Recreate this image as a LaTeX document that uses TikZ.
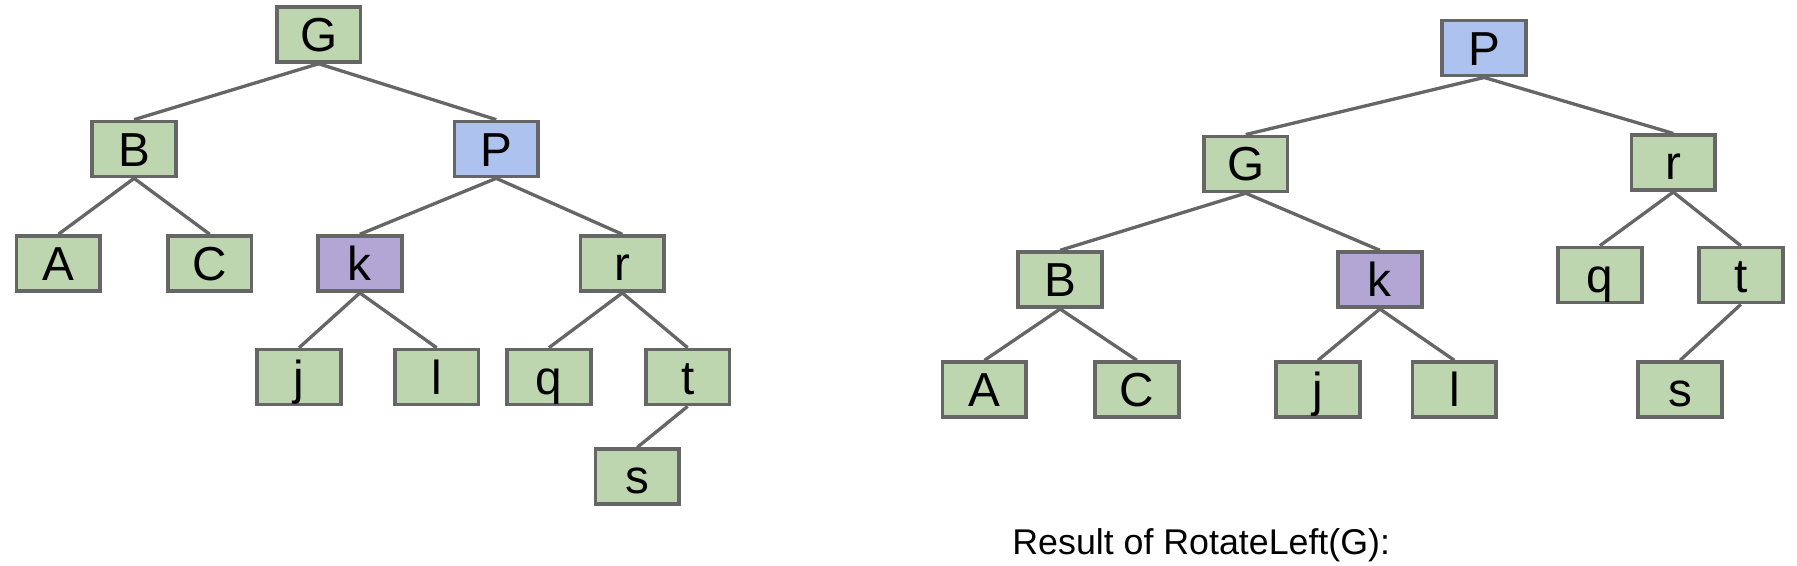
\documentclass[tikz,border=0pt]{standalone}
\usepackage{fontspec}
\setmainfont{Liberation Sans}
\definecolor{boxgreen}{HTML}{BDD6AF}
\definecolor{boxblue}{HTML}{ADC2EE}
\definecolor{boxpurple}{HTML}{B3A6D4}
\definecolor{boxedge}{HTML}{666666}
\begin{document}
\begin{tikzpicture}[x=0.5pt, y=-0.5pt,
  tnode/.style={draw=boxedge, line width=1.6pt, fill=boxgreen,
    minimum width=36.5pt, minimum height=24pt, inner sep=0pt,
    text height=14.9pt, text depth=0pt,
    font=\fontsize{20.8}{24}\selectfont},
  tedge/.style={draw=boxedge, line width=1.45pt}]
\useasboundingbox (0,0) rectangle (1568,493);

% tree before the rotation
\node[tnode] (G1) at (278,30) {G};
\node[tnode] (B1) at (117,130) {B};
\node[tnode, fill=boxblue] (P1) at (433,130) {P};
\node[tnode] (A1) at (51,230) {A};
\node[tnode] (C1) at (183,230) {C};
\node[tnode, fill=boxpurple] (k1) at (314,230) {k};
\node[tnode] (r1) at (543,230) {r};
\node[tnode] (j1) at (261,329) {j};
\node[tnode] (l1) at (381,329) {l};
\node[tnode] (q1) at (479,329) {q};
\node[tnode] (t1) at (600,329) {t};
\node[tnode] (s1) at (556,416) {s};

% tree after the rotation
\node[tnode, fill=boxblue] (P2) at (1295,42) {P};
\node[tnode] (G2) at (1087,143) {G};
\node[tnode] (r2) at (1460,142) {r};
\node[tnode] (B2) at (925,244) {B};
\node[tnode, fill=boxpurple] (k2) at (1204,244) {k};
\node[tnode] (q2) at (1396,240) {q};
\node[tnode] (t2) at (1519,240) {t};
\node[tnode] (A2) at (859,340) {A};
\node[tnode] (C2) at (992,340) {C};
\node[tnode] (j2) at (1150,340) {j};
\node[tnode] (l2) at (1269,340) {l};
\node[tnode] (s2) at (1466,340) {s};

\foreach \a/\b in {G1/B1, G1/P1, B1/A1, B1/C1, P1/k1, P1/r1, k1/j1, k1/l1,
  r1/q1, r1/t1, t1/s1,
  P2/G2, P2/r2, G2/B2, G2/k2, B2/A2, B2/C2, k2/j2, k2/l2, r2/q2, r2/t2, t2/s2}
  \draw[tedge] (\a.south) -- (\b.north);

\node[anchor=base west, inner sep=0pt, font=\fontsize{15.6}{19}\selectfont]
  (res) at (883,484) {Result of RotateLeft(G):};
\end{tikzpicture}
\end{document}
